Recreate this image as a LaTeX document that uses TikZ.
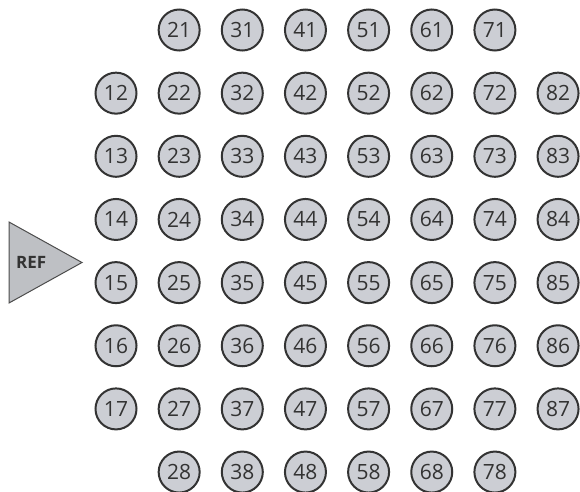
\documentclass[tikz,border=0pt]{standalone}
\usepackage{fontspec}
\setmainfont{Open Sans}
\begin{document}
\begin{tikzpicture}[x=1pt,y=-1pt,
  pin/.style={circle,draw=black!80,line width=2pt,fill=circfill,minimum size=41pt,inner sep=0pt,font=\fontsize{21}{21}\selectfont,text=black!80},
  refbox/.style={draw=black!70,line width=1pt,fill=reffill}]
\definecolor{circfill}{RGB}{204,206,212}
\definecolor{reffill}{RGB}{190,192,196}
\useasboundingbox (0,0) rectangle (580,491);
\foreach \c in {1,...,8}{
  \foreach \r in {1,...,8}{
    \pgfmathtruncatemacro{\show}{ (\c==1 || \c==8) ? ((\r>1 && \r<8) ? 1 : 0) : 1 }
    \ifnum\show=1
      \node[pin] (n\c\r) at ({116+(\c-1)*63.15},{30+(\r-1)*63.15}) {\c\r};
    \fi
  }
}
\coordinate (rt) at (9,222);
\coordinate (rb) at (9,303);
\coordinate (rp) at (82,262.5);
\draw[refbox] (rt) -- (rp) -- (rb) -- cycle;
\node[font=\bfseries\fontsize{17}{17}\selectfont,text=black!80,anchor=west,inner sep=0pt] (ref) at (16,262) {REF};
\end{tikzpicture}
\end{document}
